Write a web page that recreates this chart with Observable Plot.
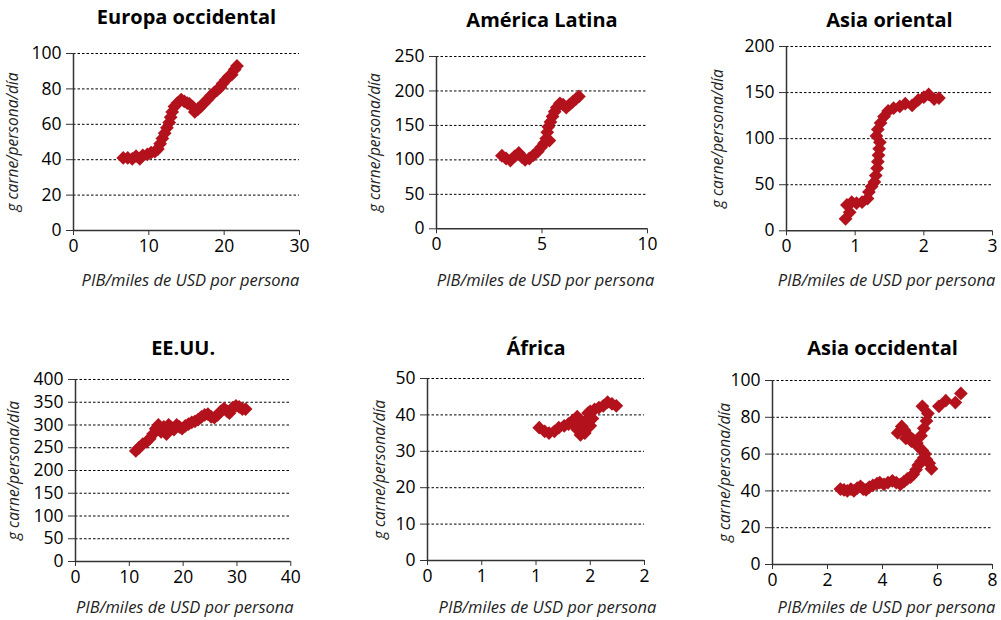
<!DOCTYPE html>
<html><head><meta charset="utf-8">
<script src="https://cdn.jsdelivr.net/npm/d3@7"></script>
<script src="https://cdn.jsdelivr.net/npm/@observablehq/plot@0.6"></script>
<style>
body{margin:0;background:#fff;width:1001px;height:620px;position:relative;overflow:hidden;font-family:"Open Sans",sans-serif}
svg{position:absolute;overflow:visible}
</style></head><body>
<script>
const titles = ["Europa occidental","América Latina","Asia oriental","EE.UU.","África","Asia occidental"];
const yLabel = "g carne/persona/día";
const xLabel = "PIB/miles de USD por persona";

const europaPIB   = [6.6,7.2,7.8,8.3,8.8,9.2,9.8,10.3,10.8,11.2,11.5,11.8,12.1,12.4,12.7,12.9,13.1,13.4,13.8,14.3,14.7,15.1,15.4,15.8,16.1,16.5,16.9,17.3,17.8,18.2,18.7,19.1,19.5,19.8,20.2,20.6,21.0,21.4,21.7];
const europaCarne = [41,41,40.5,42,40.5,42.5,43,44,44.5,46,49,52,55,58,61,64,67,70,72,74,73,72,71.5,70,67,68.5,70,72,74,76,78,79.5,81,83,85,87,88,91,93];

const latinaPIB   = [3.1,3.3,3.5,3.7,3.9,4.05,4.2,4.4,4.6,4.8,4.95,5.1,5.2,5.35,5.25,5.3,5.4,5.5,5.6,5.7,5.85,6.0,6.15,6.3,6.45,6.6,6.75];
const latinaCarne = [106,102,99,105,110,104,100,102,107,112,118,124,131,128,140,148,155,163,170,176,182,180,176,180,184,188,192];

const orientalPIB   = [0.86,0.92,0.88,0.95,1.02,1.1,1.18,1.2,1.24,1.28,1.3,1.32,1.33,1.34,1.35,1.36,1.31,1.33,1.37,1.42,1.48,1.56,1.65,1.73,1.83,1.92,2.0,2.07,2.15,2.22];
const orientalCarne = [13,20,28,31,30,31,35,42,48,53,60,68,75,82,89,96,103,110,117,124,130,133,135,138,136,142,145,148,143,144];

const eeuuPIB   = [11.2,11.8,12.5,13.2,13.8,14.4,14.9,15.4,15.9,16.4,16.9,17.3,17.8,18.3,18.8,19.3,19.8,20.4,21,21.6,22.2,22.8,23.4,24,24.6,25.2,25.8,26.4,27,27.6,28.2,28.6,29.2,29.8,30.4,31,31.6];
const eeuuCarne = [243,250,258,263,270,280,292,300,285,296,280,300,295,290,300,296,292,298,302,306,308,312,318,322,324,318,316,322,330,336,330,326,338,342,340,335,335];

const africaPIB   = [1.03,1.08,1.12,1.17,1.21,1.26,1.3,1.34,1.36,1.38,1.38,1.4,1.42,1.41,1.45,1.44,1.46,1.5,1.48,1.5,1.52,1.54,1.58,1.62,1.66,1.7,1.74];
const africaCarne = [36.5,35.5,35,35.5,36.5,37,37.5,38.5,37,36,39.5,38,36,34.5,35,36.5,38.5,37,40.5,41,39,41.5,42,42.5,43.5,43,42.5];

const occidentalPIB   = [2.47,2.6,2.72,2.85,2.96,3.08,3.2,3.3,3.4,3.52,3.65,3.8,3.9,4.05,4.2,4.36,4.5,4.65,4.78,4.9,5.02,5.12,5.22,5.3,5.4,5.5,5.6,5.7,5.78,5.55,5.45,5.3,5.2,5.1,4.95,4.8,4.7,4.55,4.85,5.05,5.25,5.4,5.5,5.6,5.65,5.45,6.05,6.3,6.65,6.85];
const occidentalCarne = [41,40.5,40,41,40,41.5,42.5,41,40.5,42,43,44,44.5,43.5,44.5,45.5,44.5,43.5,45,46.5,47.5,49,51.5,54,56,58,57,55,52,60,62,64,66.5,68,70,73,75,71.5,68.5,67,66,70,74,78,82,86,86,89,88,93];

const xTicks = [[0,10,20,30],[0,5,10],[0,1,2,3],[0,10,20,30,40],[0,0.5,1,1.5,2],[0,2,4,6,8]];
const yTicks = [[0,20,40,60,80,100],[0,50,100,150,200,250],[0,50,100,150,200],[0,50,100,150,200,250,300,350,400],[0,10,20,30,40,50],[0,20,40,60,80,100]];

const series = [
  [europaPIB, europaCarne],
  [latinaPIB, latinaCarne],
  [orientalPIB, orientalCarne],
  [eeuuPIB, eeuuCarne],
  [africaPIB, africaCarne],
  [occidentalPIB, occidentalCarne]
];

// layout: frame [left, right, top, bottom], title y, x-label y, x-label centre x, y-label x
const layout = [
  {f:[73,299,52.5,229.5], ty:17, xy:280, xx:190, yx:13},
  {f:[436,647,55.7,228], ty:20, xy:280, xx:545, yx:375},
  {f:[786,992,45.7,230], ty:20, xy:280, xx:886, yx:718},
  {f:[74.7,290,379,561], ty:348, xy:607, xx:184, yx:13},
  {f:[427,644,378,560], ty:348, xy:607, xx:547, yx:380},
  {f:[772,992,380,564], ty:348, xy:607, xx:886, yx:725}
];

const red = "#B3121D";
const ml = 80, mr = 20, mt = 50, mb = 70;

series.forEach(([xs, ys], i) => {
  const {f:[L,R,T,B], ty, xy, xx, yx} = layout[i];
  const data = xs.map((x, k) => ({x, y: ys[k]}));
  const xt = xTicks[i], yt = yTicks[i];
  const svg = Plot.plot({
    width: R - L + ml + mr,
    height: B - T + mt + mb,
    marginLeft: ml, marginRight: mr, marginTop: mt, marginBottom: mb,
    style: {fontFamily: "'Open Sans', sans-serif", fontSize: "17px", color: "#000", background: "transparent", overflow: "visible"},
    x: {domain: [0, xt[xt.length - 1]]},
    y: {domain: [0, yt[yt.length - 1]]},
    marks: [
      Plot.gridY(yt.filter(v => v > 0), {stroke: "#000", strokeOpacity: 1, strokeWidth: 1, strokeDasharray: "2.5,2"}),
      Plot.axisX({ticks: xt, tickSize: 5, tickPadding: 4, fontSize: 17.5, label: null, stroke: "#333",
                  tickFormat: i === 4 ? (d => String(Math.round(d))) : (d => String(d))}),
      Plot.axisY({ticks: yt, tickSize: 7, tickPadding: 5, fontSize: 17.5, label: null, stroke: "#333"}),
      Plot.ruleY([0], {stroke: "#333", strokeWidth: 1.5}),
      Plot.ruleX([0], {stroke: "#333", strokeWidth: 1.5}),
      Plot.dot(data, {x: "x", y: "y", symbol: "diamond2", r: 6.2, fill: red, stroke: "none"}),
      Plot.text([titles[i]], {text: d => d, frameAnchor: "top", textAnchor: "middle", lineAnchor: "middle", dy: ty - T, fontSize: 20, fontWeight: "bold", fill: "#000"}),
      Plot.text([xLabel], {text: d => d, frameAnchor: "bottom", textAnchor: "middle", lineAnchor: "middle", dx: xx - (L + R) / 2, dy: xy - B, fontSize: 16.5, fontStyle: "italic", fill: "#222"}),
      Plot.text([yLabel], {text: d => d, frameAnchor: "left", textAnchor: "middle", lineAnchor: "middle", dx: yx - L, rotate: -90, fontSize: 15.5, fontStyle: "italic", fill: "#222"})
    ]
  });
  svg.style.left = (L - ml) + "px";
  svg.style.top = (T - mt) + "px";
  document.body.appendChild(svg);
});
</script>
</body></html>
